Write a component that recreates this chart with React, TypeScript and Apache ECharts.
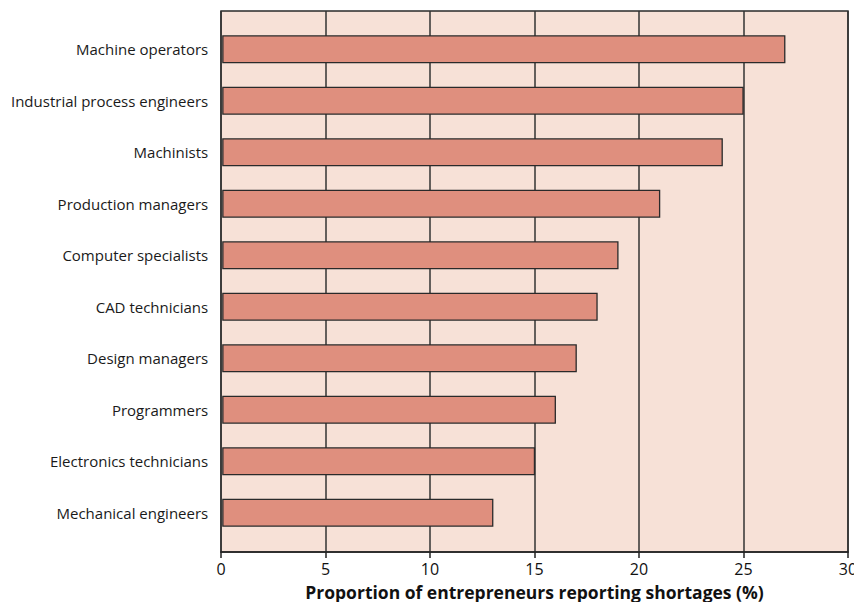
import React, { useEffect, useRef } from "react";
import * as echarts from "echarts";

const categories = [
  "Machine operators",
  "Industrial process engineers",
  "Machinists",
  "Production managers",
  "Computer specialists",
  "CAD technicians",
  "Design managers",
  "Programmers",
  "Electronics technicians",
  "Mechanical engineers",
];
const values = [27, 25, 24, 21, 19, 18, 17, 16, 15, 13];
const xTicks = [0, 5, 10, 15, 20, 25, 30];
const xTitle = "Proportion of entrepreneurs reporting shortages (%)";

const FONT = "Open Sans";

export default function App() {
  const ref = useRef<HTMLDivElement>(null);
  useEffect(() => {
    if (!ref.current) return;
    const chart = echarts.init(ref.current, undefined, { renderer: "svg" });
    const cats = [...categories].reverse();
    const vals = [...values].reverse();
    chart.setOption({
      animation: false,
      backgroundColor: "#ffffff",
      grid: [
        {
          left: 213,
          top: 3,
          width: 627,
          height: 541,
          show: true,
          backgroundColor: "#f7e1d7",
          borderColor: "#2a2a2a",
          borderWidth: 1.5,
        },
        {
          left: 213,
          top: 15.5,
          width: 627,
          height: 515,
        },
      ],
      graphic: [
        {
          type: "text",
          x: 526.5,
          y: 584,
          style: {
            text: xTitle,
            fill: "#111",
            font: `bold 17.5px "${FONT}"`,
            textAlign: "center",
            textVerticalAlign: "middle",
          },
        },
      ],
      xAxis: [
        {
          gridIndex: 0,
          type: "value",
          min: xTicks[0],
          max: xTicks[xTicks.length - 1],
          interval: 5,
          axisLine: { show: true, lineStyle: { color: "#222", width: 1.5 } },
          axisTick: { show: true, length: 6, lineStyle: { color: "#222", width: 1.5 } },
          splitLine: { show: true, lineStyle: { color: "#333", width: 1.5 } },
          axisLabel: { color: "#111", fontSize: 16, fontFamily: FONT, margin: 9 },
        },
        {
          gridIndex: 1,
          type: "value",
          min: 0,
          max: 30,
          interval: 5,
          show: false,
          splitLine: { show: false },
        },
      ],
      yAxis: [
        {
          gridIndex: 0,
          type: "category",
          data: cats,
          show: false,
        },
        {
          gridIndex: 1,
          type: "category",
          data: cats,
          axisLine: { show: false },
          axisTick: { show: false },
          axisLabel: { color: "#1a1a1a", fontSize: 15, fontFamily: FONT, margin: 14 },
        },
      ],
      series: [
        {
          type: "bar",
          xAxisIndex: 1,
          yAxisIndex: 1,
          data: vals,
          barWidth: 28,
          itemStyle: { color: "#df8f7e", borderColor: "#2a2a2a", borderWidth: 1.3 },
        },
      ],
    });
    return () => chart.dispose();
  }, []);
  return <div ref={ref} style={{ width: 854, height: 594 }} />;
}
